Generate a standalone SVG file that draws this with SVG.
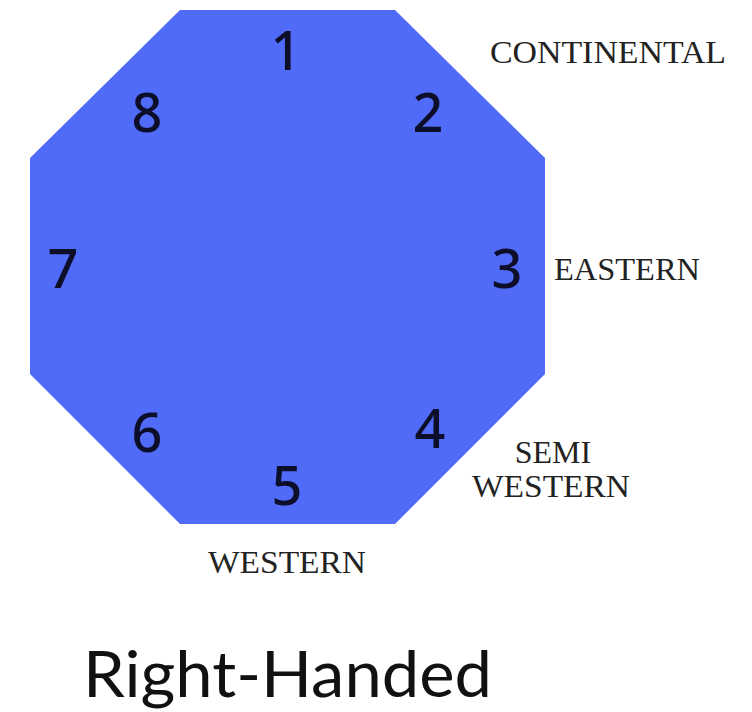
<svg xmlns="http://www.w3.org/2000/svg" width="752" height="712" viewBox="0 0 752 712">
<style>
.num{font-family:"Noto Sans","DejaVu Sans",sans-serif;font-size:54px;font-weight:500;fill:#0d0f2a;text-anchor:middle}
.lbl{font-family:"Liberation Serif","Times New Roman",serif;font-size:32px;fill:#222}
.title{font-family:Lato,"Noto Sans",sans-serif;font-size:64px;fill:#111}
</style>
<rect width="752" height="712" fill="#fff"/>
<g id="octagon">
<polygon points="180,10 395,10 545,158 545,374 395,524 180,524 30,374 30,158" fill="#506bf7"/>
</g>
<g id="numbers">
<text class="num" x="286" y="70">1</text>
<text class="num" x="428" y="132">2</text>
<text class="num" x="507" y="288">3</text>
<text class="num" x="430" y="448">4</text>
<text class="num" x="287" y="505">5</text>
<text class="num" x="147" y="452">6</text>
<text class="num" x="63" y="288">7</text>
<text class="num" x="147" y="132">8</text>
</g>
<g id="labels">
<text class="lbl" x="490" y="63" textLength="236" lengthAdjust="spacingAndGlyphs">CONTINENTAL</text>
<text class="lbl" x="554" y="280" textLength="146" lengthAdjust="spacingAndGlyphs">EASTERN</text>
<text class="lbl" x="553" y="463" text-anchor="middle">SEMI</text>
<text class="lbl" x="472" y="497" textLength="158" lengthAdjust="spacingAndGlyphs">WESTERN</text>
<text class="lbl" x="208" y="573" textLength="158" lengthAdjust="spacingAndGlyphs">WESTERN</text>
</g>
<g id="title">
<text class="title" x="83" y="697" textLength="409" lengthAdjust="spacingAndGlyphs">Right-Handed</text>
</g>
</svg>
